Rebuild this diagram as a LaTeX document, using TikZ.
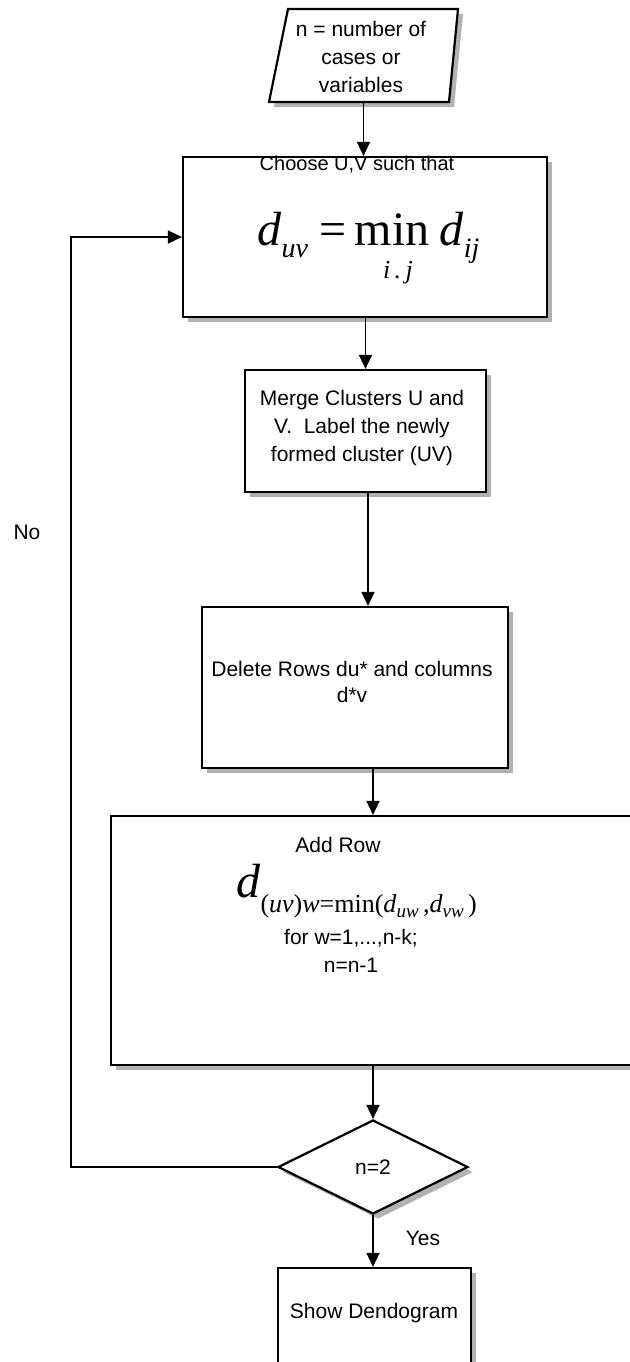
\documentclass[tikz,border=0pt]{standalone}
\usepackage{fontspec}
\setmainfont{Liberation Sans}
\newfontfamily\tnr{Liberation Serif}
\usetikzlibrary{shapes.geometric,arrows.meta,shadows,calc}

\tikzset{
  box/.style={draw, line width=1.1pt, fill=white, inner sep=0pt,
    drop shadow={shadow xshift=2.5pt, shadow yshift=-2.5pt, fill=black!30, opacity=1}},
  txt/.style={font=\fontsize{10.5pt}{14pt}\selectfont, align=center, inner sep=0pt},
  arr/.style={-{Triangle[length=7pt,width=6.5pt]}, line width=0.8pt},
}

\begin{document}
\begin{tikzpicture}[x=0.5pt, y=-0.5pt]
    \useasboundingbox (0,0) rectangle (629,1362);

    % Input parallelogram
    \fill [black!30, xshift=2.5pt, yshift=-2.5pt] (288,9) -- (458,9) -- (449,102) -- (269,102) -- cycle;
    \draw [line width=1.1pt, fill=white] (288,9) -- (458,9) -- (449,102) -- (269,102) -- cycle;
    \coordinate (inputBot) at (363.5,102);

    % Boxes
    \node [box, minimum width=182pt, minimum height=80pt] (choose) at (365,237) {};
    \node [box, minimum width=120.5pt, minimum height=61pt] (merge) at (365.5,431) {};
    \node [box, minimum width=153pt, minimum height=80.5pt] (delete) at (355,687.5) {};
    \node [box, minimum width=264.5pt, minimum height=124.5pt] (addrow) at (375.5,940.5) {};
    \node [box, diamond, inner sep=2pt, minimum width=95pt, minimum height=47pt,
           font=\fontsize{10.5pt}{14pt}\selectfont] (test) at (373,1167) {n=2};
    \node [box, minimum width=96.5pt, minimum height=56pt] (show) at (374.5,1324) {};

    % Texts
    \node [txt] (input) at (361,57) {n = number of\\cases or\\variables};
    \node [txt, font=\fontsize{10pt}{10pt}\selectfont] (chooseTxt) at (357,165) {Choose U,V such that};
    \node [inner sep=0pt, anchor=base west] (chooseEq) at (257,245) {\tnr\fontsize{24pt}{24pt}\selectfont
        \textit{d}\raisebox{-6pt}{\fontsize{14pt}{14pt}\selectfont\textit{uv}}\hspace{6pt}=\hspace{4pt}%
        min\hspace{5pt}\textit{d}\raisebox{-6pt}{\fontsize{14pt}{14pt}\selectfont\textit{ij}}};
    \node [inner sep=0pt, font=\tnr\fontsize{13pt}{13pt}\selectfont] (chooseSub) at (398,273) {\textit{i\,.\,j}};
    \node [txt] (mergeTxt) at (362,428) {Merge Clusters U and\\V.\ \ Label the newly\\formed cluster (UV)};
    \node [txt, font=\fontsize{10.5pt}{13pt}\selectfont] (deleteTxt) at (352,682) {Delete Rows du* and columns\\d*v};
    \node [txt] (addTxt) at (338,845) {Add Row};
    \node [inner sep=0pt, anchor=base west] (addEq) at (236,897) {\tnr
        {\fontsize{24pt}{24pt}\selectfont\textit{d}}\raisebox{-7.5pt}{\fontsize{13pt}{13pt}\selectfont
        (\textit{uv})\textit{w}=min(\textit{d}\raisebox{-2.5pt}{\fontsize{9.5pt}{9.5pt}\selectfont\textit{uw}}\,,%
        \textit{d}\raisebox{-2.5pt}{\fontsize{9.5pt}{9.5pt}\selectfont\textit{vw}}\,)}};
    \node [txt] (addFor) at (351,951) {for w=1,...,n-k;\\n=n-1};
    \node [txt] (showTxt) at (374,1313) {Show Dendogram};

    % Connectors
    \coordinate (noleg) at (71,1167);
    \coordinate (mdx) at (368,0);
    \draw [arr] (inputBot) -- (inputBot |- choose.north);
    \draw [arr] (merge.north |- choose.south) -- (merge.north);
    \draw [arr] (mdx |- merge.south) -- (mdx |- delete.north);
    \draw [arr] (test |- delete.south) -- (test |- addrow.north);
    \draw [arr] (test |- addrow.south) -- (test.north);
    \draw [arr] (test.south) -- (test.south |- show.north);
    \draw [arr] (test.west) -- (noleg) |- (choose.west);

    % Labels
    \node [txt] (yes) at (423,1238) {Yes};
    \node [txt] (no) at (27,532) {No};
\end{tikzpicture}
\end{document}
